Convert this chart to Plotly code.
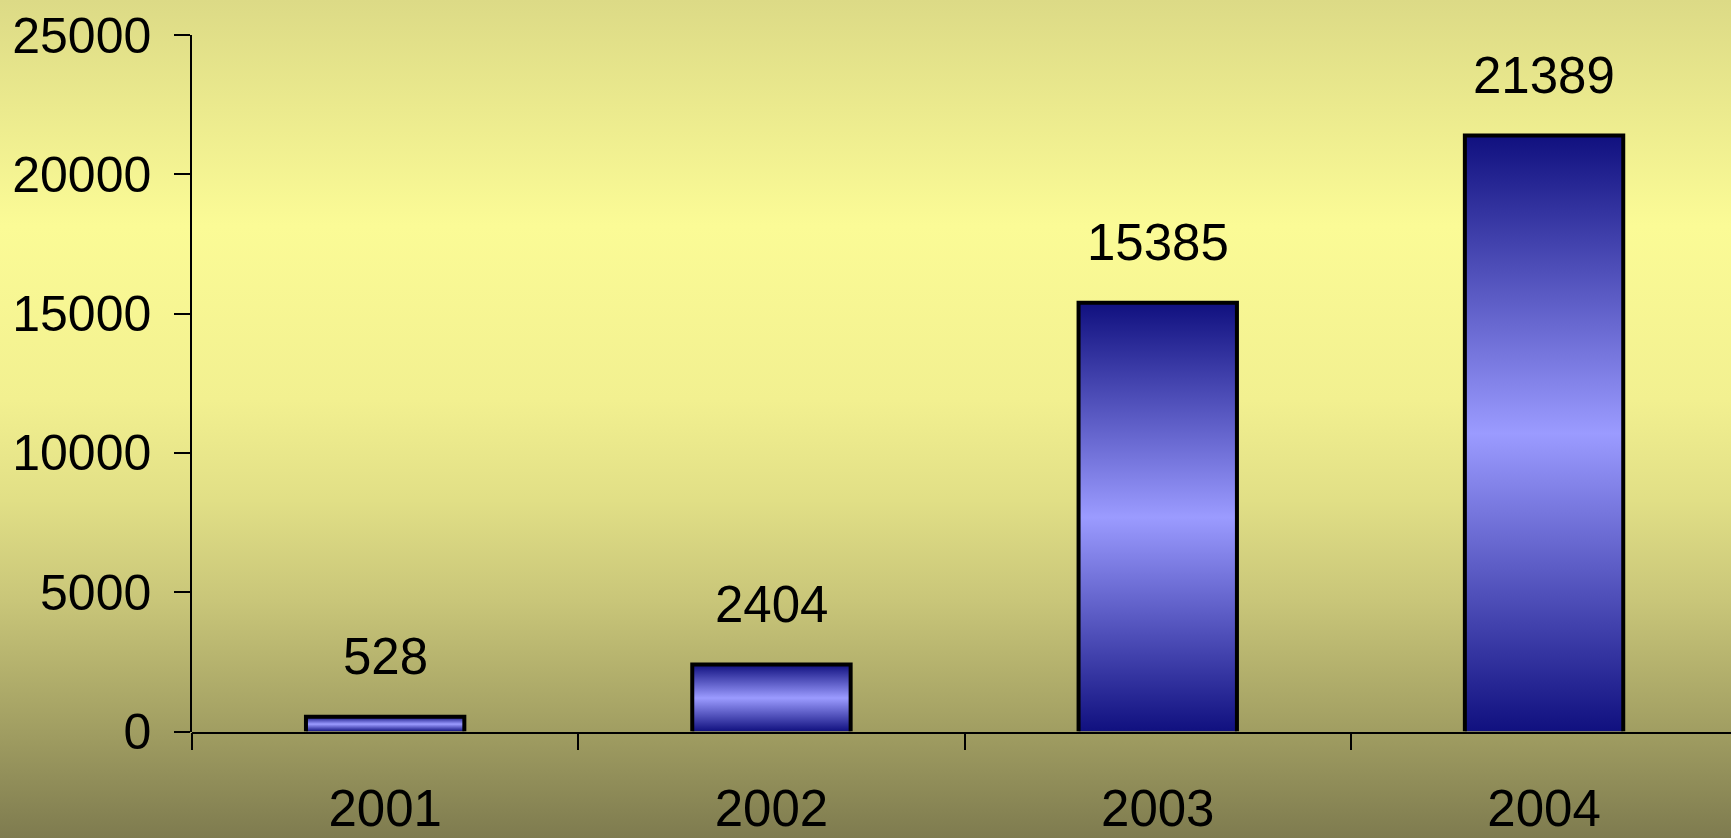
import plotly.graph_objects as go

# ---- data ----
years = ["2001", "2002", "2003", "2004"]
values = [528, 2404, 15385, 21389]
y_ticks = [0, 5000, 10000, 15000, 20000, 25000]
y_tick_text = ["0", "5000", "10000", "15000", "20000", "25000"]

# ---- style ----
W, H = 1731, 838
FONT = "Liberation Sans, Arial, sans-serif"
BAR_W = 0.41
DARK = "#10107f"
LIGHT = "#9b9bff"

fig = go.Figure()

# background gradient (full-canvas hidden axes)
fig.add_trace(go.Scatter(
    x=[0, 1, 1, 0], y=[0, 0, 1, 1], fill="toself", mode="none",
    fillgradient=dict(type="vertical", start=0, stop=1, colorscale=[
        [0.0, "#7e7b4f"], [0.129, "#a19e62"], [0.284, "#c9c679"],
        [0.403, "#e1df86"], [0.523, "#f2f090"], [0.731, "#fbfb96"],
        [1.0, "#dcda86"]]),
    xaxis="x", yaxis="y", hoverinfo="skip", showlegend=False))

# bars as gradient-filled rectangles (on a hidden y axis with the same scale
# as the visible one, whose domain reaches the top of the canvas)
for i, v in enumerate(values):
    fig.add_trace(go.Scatter(
        x=[i - BAR_W / 2, i - BAR_W / 2, i + BAR_W / 2, i + BAR_W / 2],
        y=[0, v, v, 0],
        fill="toself", mode="lines",
        line=dict(color="black", width=4),
        fillgradient=dict(type="vertical", start=0, stop=v,
                          colorscale=[[0, DARK], [0.5, LIGHT], [1, DARK]]),
        xaxis="x2", yaxis="y4", hoverinfo="skip", showlegend=False))

# invisible trace carrying the category labels axis
fig.add_trace(go.Scatter(x=years, y=values, mode="markers", opacity=0,
                         xaxis="x3", yaxis="y2", hoverinfo="skip", showlegend=False))

# data labels
for i, v in enumerate(values):
    fig.add_annotation(x=i, y=v, xref="x2", yref="y2", text=str(v),
                       showarrow=False, yanchor="bottom", yshift=30,
                       font=dict(family=FONT, size=51, color="black"))

x_left = 192 / W
y_bot = 106.5 / H
y_top = (H - 35) / H
xr = [-0.5, -0.5 + (W - 192) / 386.3]
y4_top = 25000 * (1 - y_bot) / (y_top - y_bot)

fig.update_layout(
    width=W, height=H,
    margin=dict(l=0, r=0, t=0, b=0, pad=0, autoexpand=False),
    paper_bgcolor="#dcda86", plot_bgcolor="rgba(0,0,0,0)",
    hovermode=False, showlegend=False,
    font=dict(family=FONT, color="black"),
    xaxis=dict(domain=[0, 1], range=[0, 1], visible=False, fixedrange=True,
               automargin=False),
    yaxis=dict(domain=[0, 1], range=[0, 1], visible=False, fixedrange=True,
               automargin=False),
    xaxis2=dict(domain=[x_left, 1], range=xr, anchor="y2", automargin=False,
                tickmode="array", tickvals=[-0.5, 0.5, 1.5, 2.5, 3.5],
                ticktext=["", "", "", "", ""],
                ticks="outside", ticklen=17, tickwidth=1.5, tickcolor="black",
                showline=True, linecolor="black", linewidth=1.5,
                showgrid=False, zeroline=False),
    xaxis3=dict(overlaying="x2", anchor="y2", range=xr, type="category",
                categoryorder="array", categoryarray=years, automargin=False,
                showline=False, ticks="", showgrid=False, zeroline=False,
                tickfont=dict(family=FONT, size=51, color="black"),
                ticklabelstandoff=42, side="bottom"),
    yaxis2=dict(domain=[y_bot, y_top], range=[0, 25000], anchor="x2",
                automargin=False,
                tickmode="array", tickvals=y_ticks, ticktext=y_tick_text,
                ticks="outside", ticklen=16, tickwidth=1.5, tickcolor="black",
                showline=True, linecolor="black", linewidth=1.5,
                showgrid=False, zeroline=False,
                tickfont=dict(family=FONT, size=50, color="black"),
                ticklabelstandoff=13),
    yaxis4=dict(domain=[y_bot, 1], range=[0, y4_top], anchor="x2",
                visible=False, automargin=False, fixedrange=True),
)

fig.write_html("out.html")
